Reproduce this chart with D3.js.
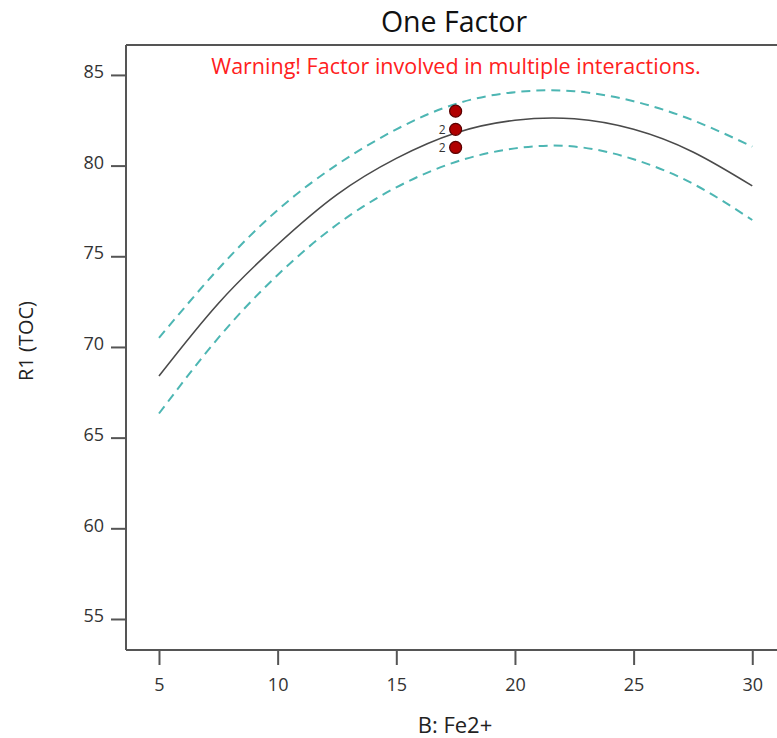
<!DOCTYPE html>
<html>
<head>
<meta charset="utf-8">
<script src="https://cdn.jsdelivr.net/npm/d3@7"></script>
<style>
  body { margin: 0; background: #fff; }
  svg { display: block; font-family: "Open Sans", "Noto Sans", sans-serif; }
</style>
</head>
<body>
<svg id="chart" width="777" height="738"></svg>
<script>
// ---- data ----
const xValues   = [5, 7.5, 10, 12.5, 15, 17.5, 20, 22.5, 25, 27.5, 30];
const fitValues = [68.4, 72.4, 75.65, 78.4, 80.4, 81.8, 82.5, 82.58, 82.0, 80.75, 78.88];
const upperCI   = [70.5, 74.3, 77.55, 80.05, 82.0, 83.4, 84.05, 84.1, 83.55, 82.5, 81.05];
const lowerCI   = [66.33, 70.5, 73.97, 76.75, 78.8, 80.2, 80.95, 81.05, 80.35, 79.0, 77.0];
const designX   = [17.5, 17.5, 17.5];
const designY   = [83, 82, 81];
const designLbl = ["", "2", "2"];
const xTicks    = [5, 10, 15, 20, 25, 30];
const yTicks    = [55, 60, 65, 70, 75, 80, 85];

const svg = d3.select("#chart");
const mLeft = 126, mTop = 45, mBottom = 650, mRight = 790;

const x = d3.scaleLinear().domain([3.61, 31.59]).range([mLeft, mRight]);
const y = d3.scaleLinear().domain([53.29, 86.65]).range([mBottom, mTop]);

const axisColor = "#555";

// frame: top border
svg.append("line").attr("x1", mLeft).attr("x2", mRight).attr("y1", mTop).attr("y2", mTop)
  .attr("stroke", axisColor).attr("stroke-width", 2);

// axes
const yAxis = svg.append("g").attr("transform", `translate(${mLeft},0)`)
  .call(d3.axisLeft(y).tickValues(yTicks).tickSize(15).tickPadding(7).tickFormat(d3.format("d")));
const xAxis = svg.append("g").attr("transform", `translate(0,${mBottom})`)
  .call(d3.axisBottom(x).tickValues(xTicks).tickSize(15).tickPadding(13).tickFormat(d3.format("d")));
xAxis.select(".domain").attr("d", `M${mLeft},0H${mRight}`);
yAxis.select(".domain").attr("d", `M0,${mTop}V${mBottom}`);
[xAxis, yAxis].forEach(g => {
  g.select(".domain").attr("stroke", axisColor).attr("stroke-width", 2);
  g.selectAll(".tick line").attr("stroke", axisColor).attr("stroke-width", 2);
  g.selectAll(".tick text").attr("fill", "#333").style("font-size", "18px")
    .style("font-family", "'Open Sans', 'Noto Sans', sans-serif");
});
yAxis.selectAll(".tick text").attr("dy", "0.15em");

// lines
const mk = vals => d3.line().x((d, i) => x(xValues[i])).y(d => y(d)).curve(d3.curveNatural)(vals);

svg.append("path").attr("d", mk(upperCI)).attr("fill", "none")
  .attr("stroke", "#4db6b3").attr("stroke-width", 2).attr("stroke-dasharray", "9,6");
svg.append("path").attr("d", mk(lowerCI)).attr("fill", "none")
  .attr("stroke", "#4db6b3").attr("stroke-width", 2).attr("stroke-dasharray", "9,6");
svg.append("path").attr("d", mk(fitValues)).attr("fill", "none")
  .attr("stroke", "#4a4a4a").attr("stroke-width", 1.6);

// design points
svg.selectAll("circle.pt").data(designY).enter().append("circle")
  .attr("class", "pt")
  .attr("cx", (d, i) => x(designX[i])).attr("cy", d => y(d)).attr("r", 6)
  .attr("fill", "#b00000").attr("stroke", "#5a0000").attr("stroke-width", 1.2);
svg.selectAll("text.lbl").data(designY).enter().append("text")
  .attr("class", "lbl")
  .attr("x", (d, i) => x(designX[i]) - 10).attr("y", d => y(d) + 5)
  .attr("text-anchor", "end").attr("fill", "#333").style("font-size", "12px")
  .text((d, i) => designLbl[i]);

// texts
svg.append("text").attr("x", 454).attr("y", 32).attr("text-anchor", "middle")
  .attr("fill", "#111").style("font-size", "28.5px").text("One Factor");
svg.append("text").attr("x", 456).attr("y", 74).attr("text-anchor", "middle")
  .attr("fill", "#ff2020").style("font-size", "21.5px")
  .text("Warning! Factor involved in multiple interactions.");
svg.append("text").attr("x", 455).attr("y", 733).attr("text-anchor", "middle")
  .attr("fill", "#222").style("font-size", "22px").text("B: Fe2+");
svg.append("text").attr("transform", "translate(33,341) rotate(-90)").attr("text-anchor", "middle")
  .attr("fill", "#222").style("font-size", "20px").text("R1 (TOC)");
</script>
</body>
</html>
